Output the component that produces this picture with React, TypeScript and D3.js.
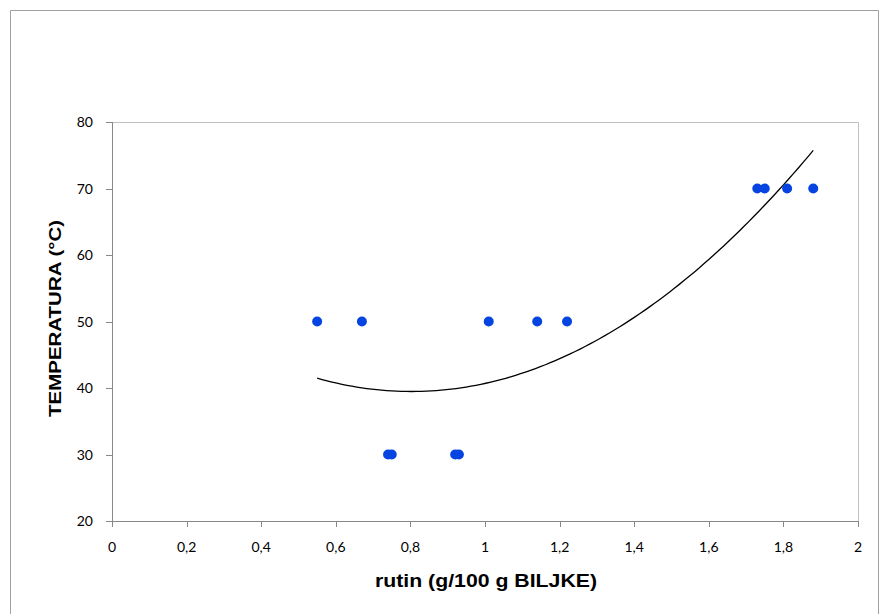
import React from "react";
import * as d3 from "d3";

const rutin = [0.55, 0.67, 0.74, 0.75, 0.92, 0.93, 1.01, 1.14, 1.22, 1.73, 1.75, 1.81, 1.88];
const temperatura = [50, 50, 30, 30, 30, 30, 50, 50, 50, 70, 70, 70, 70];
const xTicks = [0, 0.2, 0.4, 0.6, 0.8, 1, 1.2, 1.4, 1.6, 1.8, 2];
const yTicks = [20, 30, 40, 50, 60, 70, 80];
const xTitle = "rutin (g/100 g BILJKE)";
const yTitle = "TEMPERATURA (°C)";

function fitQuadratic(xs: number[], ys: number[]) {
  // least squares y = a + b x + c x^2
  const n = xs.length;
  let s = [0, 0, 0, 0, 0];
  let t = [0, 0, 0];
  for (let i = 0; i < n; i++) {
    const x = xs[i], y = ys[i];
    for (let k = 0; k < 5; k++) s[k] += Math.pow(x, k);
    for (let k = 0; k < 3; k++) t[k] += y * Math.pow(x, k);
  }
  const M = [
    [s[0], s[1], s[2], t[0]],
    [s[1], s[2], s[3], t[1]],
    [s[2], s[3], s[4], t[2]],
  ];
  for (let i = 0; i < 3; i++) {
    for (let j = i + 1; j < 3; j++) {
      const f = M[j][i] / M[i][i];
      for (let k = i; k < 4; k++) M[j][k] -= f * M[i][k];
    }
  }
  const r = [0, 0, 0];
  for (let i = 2; i >= 0; i--) {
    let v = M[i][3];
    for (let k = i + 1; k < 3; k++) v -= M[i][k] * r[k];
    r[i] = v / M[i][i];
  }
  return r;
}

export default function App() {
  const W = 879, H = 614;
  const x = d3.scaleLinear().domain([0, 2]).range([112, 858]);
  const y = d3.scaleLinear().domain([20, 80]).range([521, 122]);
  const [a, b, c] = fitQuadratic(rutin, temperatura);
  const xmin = d3.min(rutin) as number;
  const xmax = d3.max(rutin) as number;
  const pts = d3.range(0, 101).map((i) => {
    const xv = xmin + ((xmax - xmin) * i) / 100;
    return [xv, a + b * xv + c * xv * xv] as [number, number];
  });
  const line = d3.line<[number, number]>().x((d) => x(d[0])).y((d) => y(d[1]));
  const fmt = (v: number) => String(v).replace(".", ",");
  const tickFont = "Lato, 'Open Sans', sans-serif";
  const titleFont = "'Liberation Sans', Arial, sans-serif";

  return (
    <svg width={W} height={H} style={{ position: "absolute", left: 0, top: 0, background: "#fff" }}>
      <rect x={0} y={0} width={W} height={H} fill="#fff" />
      {/* outer chart border */}
      <path d={`M10.5,${H} V10.5 H${W - 0.5} V${H}`} fill="none" stroke="#a0a0a0" strokeWidth={1} />
      {/* plot area border top/right */}
      <path d={`M${x(0)},${y(80) + 0.5} H${x(2) + 0.5} V${y(20)}`} fill="none" stroke="#c0c0c0" strokeWidth={1} />
      {/* axes */}
      <line x1={x(0) + 0.5} x2={x(0) + 0.5} y1={y(80)} y2={y(20)} stroke="#888" strokeWidth={1} />
      <line x1={x(0)} x2={x(2) + 1} y1={y(20) + 0.5} y2={y(20) + 0.5} stroke="#888" strokeWidth={1} />
      {yTicks.map((t) => (
        <g key={"y" + t}>
          <line x1={x(0) - 6} x2={x(0)} y1={Math.round(y(t)) + 0.5} y2={Math.round(y(t)) + 0.5} stroke="#888" />
          <text x={93} y={y(t)} dy="0.36em" textAnchor="end" fontFamily={tickFont} fontSize={14} fill="#000">
            {fmt(t)}
          </text>
        </g>
      ))}
      {xTicks.map((t) => (
        <g key={"x" + t}>
          <line x1={Math.round(x(t)) + 0.5} x2={Math.round(x(t)) + 0.5} y1={y(20)} y2={y(20) + 6} stroke="#888" />
          <text x={x(t)} y={552} textAnchor="middle" fontFamily={tickFont} fontSize={14} fill="#000">
            {fmt(t)}
          </text>
        </g>
      ))}
      {/* trendline */}
      <path d={line(pts) || ""} fill="none" stroke="#000" strokeWidth={1.3} />
      {/* points */}
      {rutin.map((r, i) => (
        <circle key={i} cx={x(r)} cy={y(temperatura[i])} r={5} fill="#0644e2" />
      ))}
      {/* titles */}
      <text
        x={486}
        y={587}
        textAnchor="middle"
        fontFamily={titleFont}
        fontWeight="bold"
        fontSize={17.5}
        textLength={222}
        lengthAdjust="spacingAndGlyphs"
        fill="#000"
      >
        {xTitle}
      </text>
      <text
        transform={`translate(61,${318.5}) rotate(-90)`}
        textAnchor="middle"
        fontFamily={titleFont}
        fontWeight="bold"
        fontSize={17}
        textLength={197}
        lengthAdjust="spacingAndGlyphs"
        fill="#000"
      >
        {yTitle}
      </text>
    </svg>
  );
}
